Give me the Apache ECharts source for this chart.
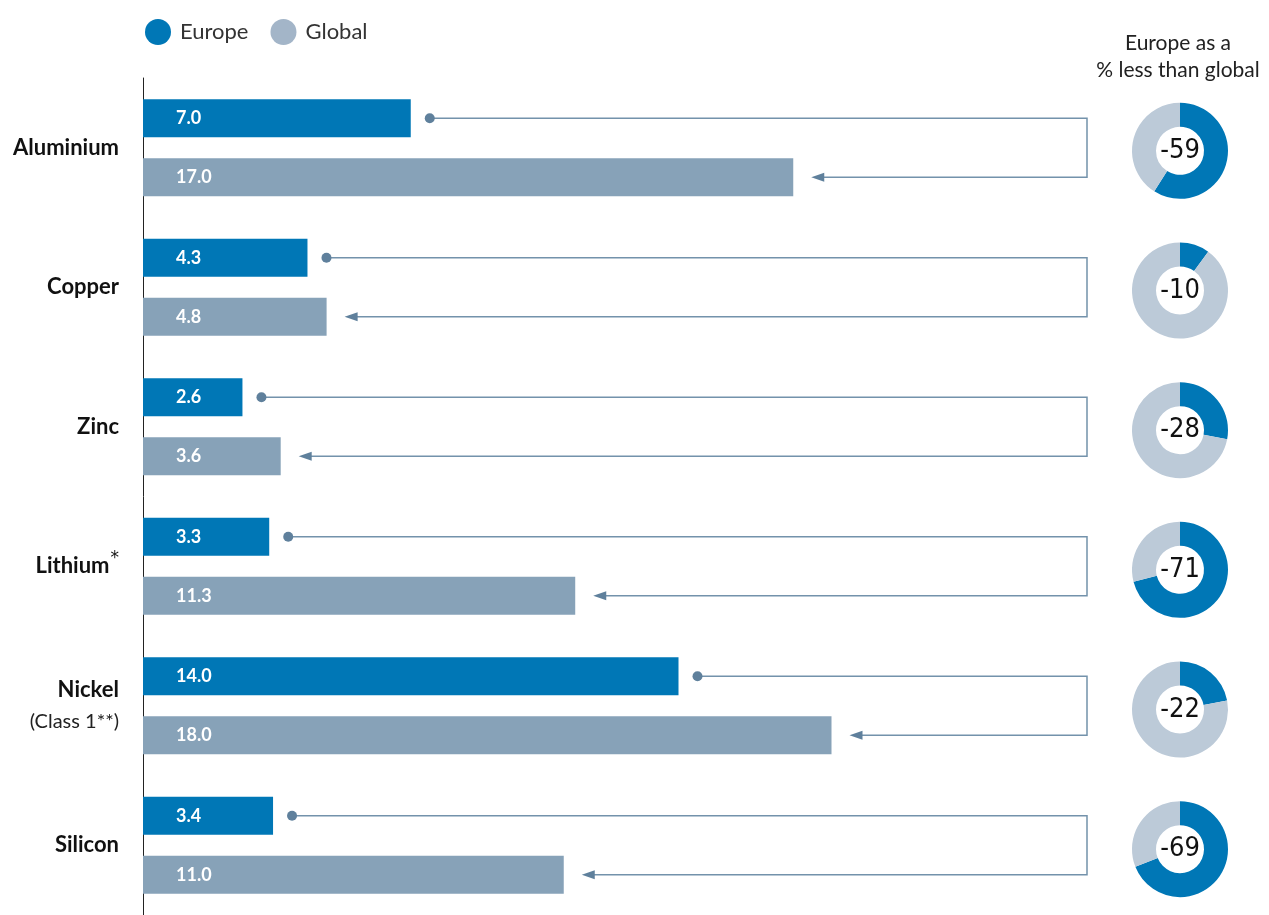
<!DOCTYPE html>
<html>
<head>
<meta charset="utf-8">
<script src="https://cdn.jsdelivr.net/npm/echarts@6/dist/echarts.min.js"></script>
<style>
  html, body { margin: 0; padding: 0; background: #fff; }
  #chart { width: 1269px; height: 915px; }
</style>
</head>
<body>
<div id="chart"></div>
<script>
// data
var categories = ['Aluminium', 'Copper', 'Zinc', 'Lithium', 'Nickel', 'Silicon'];
var europe = [7.0, 4.3, 2.6, 3.3, 14.0, 3.4];
var global = [17.0, 4.8, 3.6, 11.3, 18.0, 11.0];
var lessPct = [59, 10, 28, 71, 22, 69];

// layout / style
var BLUE = '#0077b6', GREY = '#87a2b8', RING = '#bccad8', LINE = '#7392ab', DOT = '#5f809c';
var gridTop = 78, gridH = 838, gridLeft = 143, barW = 38, barGap = 21;
var band = gridH / categories.length;
var turnX = 1087, donutX = 1180;
var FONT = 'Lato, "Noto Sans", sans-serif';
var NARROW = '"Liberation Sans Narrow", "DejaVu Sans Condensed", sans-serif';

var chart = echarts.init(document.getElementById('chart'));

var pies = lessPct.map(function (p, i) {
  return {
    type: 'pie',
    silent: true,
    center: [donutX, gridTop + band * (i + 0.5) + 3],
    radius: [24, 48],
    startAngle: 90,
    clockwise: true,
    label: { show: false },
    labelLine: { show: false },
    data: [
      {
        value: p,
        itemStyle: { color: BLUE },
        label: {
          show: true, position: 'center', formatter: '-' + p,
          fontSize: 27, color: '#111', fontFamily: NARROW
        }
      },
      { value: 100 - p, itemStyle: { color: RING }, label: { show: false } }
    ]
  };
});

var barLabel = {
  show: true, position: 'insideLeft', distance: 33,
  color: '#fff', fontSize: 18, fontWeight: 'bold', fontFamily: FONT,
  formatter: function (p) { return p.value.toFixed(1); }
};

chart.setOption({
  animation: false,
  legend: {
    left: 140, top: 14,
    icon: 'circle', itemWidth: 26, itemHeight: 26, itemGap: 22,
    textStyle: { fontSize: 22, color: '#333', fontFamily: FONT, padding: [0, 0, 0, 4] },
    data: [{ name: 'Europe', itemStyle: { color: BLUE } }, { name: 'Global', itemStyle: { color: '#a3b5c8' } }]
  },
  graphic: [{
    type: 'text', x: 1178, y: 30,
    style: {
      text: 'Europe as a\n% less than global', textAlign: 'center',
      fontSize: 21, lineHeight: 27, fill: '#222', fontFamily: FONT
    }
  }],
  grid: { left: gridLeft, top: gridTop, height: gridH, width: 765 },
  xAxis: { type: 'value', min: 0, max: 20, show: false },
  yAxis: {
    type: 'category', inverse: true, data: categories,
    axisLine: { show: true, lineStyle: { color: '#222', width: 1 } },
    axisTick: { show: false },
    axisLabel: {
      margin: 24, align: 'right',
      formatter: function (v) {
        if (v === 'Lithium') return '{b|Lithium}{s|*}';
        if (v === 'Nickel') return '{b|Nickel}\n{n|(Class 1**)}';
        return '{b|' + v + '}';
      },
      rich: {
        b: { fontSize: 22, fontWeight: 'bold', color: '#111', fontFamily: FONT, lineHeight: 32 },
        s: { fontSize: 17, color: '#111', fontFamily: '"DejaVu Sans", sans-serif', lineHeight: 32, verticalAlign: 'top', padding: [0, 0, 0, 1] },
        n: { fontSize: 20, color: '#222', fontFamily: FONT, lineHeight: 32 }
      }
    }
  },
  series: [
    {
      name: 'Europe', type: 'bar', data: europe, barWidth: barW,
      barGap: (barGap / barW * 100).toFixed(0) + '%',
      itemStyle: { color: BLUE }, label: barLabel, silent: true
    },
    {
      name: 'Global', type: 'bar', data: global, barWidth: barW,
      itemStyle: { color: GREY }, label: barLabel, silent: true
    },
    {
      type: 'custom', silent: true,
      encode: { x: [1, 2], y: 0 },
      data: categories.map(function (c, i) { return [i, europe[i], global[i]]; }),
      renderItem: function (params, api) {
        var c = api.value(0);
        var pE = api.coord([api.value(1), c]);
        var pG = api.coord([api.value(2), c]);
        var off = (barW + barGap) / 2;
        var y1 = pE[1] - off, y2 = pG[1] + off;
        var x1 = pE[0] + 19, x2 = pG[0] + 18;
        return {
          type: 'group',
          children: [
            { type: 'polyline', shape: { points: [[x1, y1], [turnX, y1], [turnX, y2], [x2 + 10, y2]] },
              style: { stroke: LINE, lineWidth: 1.5, fill: null } },
            { type: 'circle', shape: { cx: x1, cy: y1, r: 5 }, style: { fill: DOT } },
            { type: 'polygon', shape: { points: [[x2, y2], [x2 + 13, y2 - 4.5], [x2 + 13, y2 + 4.5]] },
              style: { fill: DOT } }
          ]
        };
      }
    }
  ].concat(pies)
});
</script>
</body>
</html>
